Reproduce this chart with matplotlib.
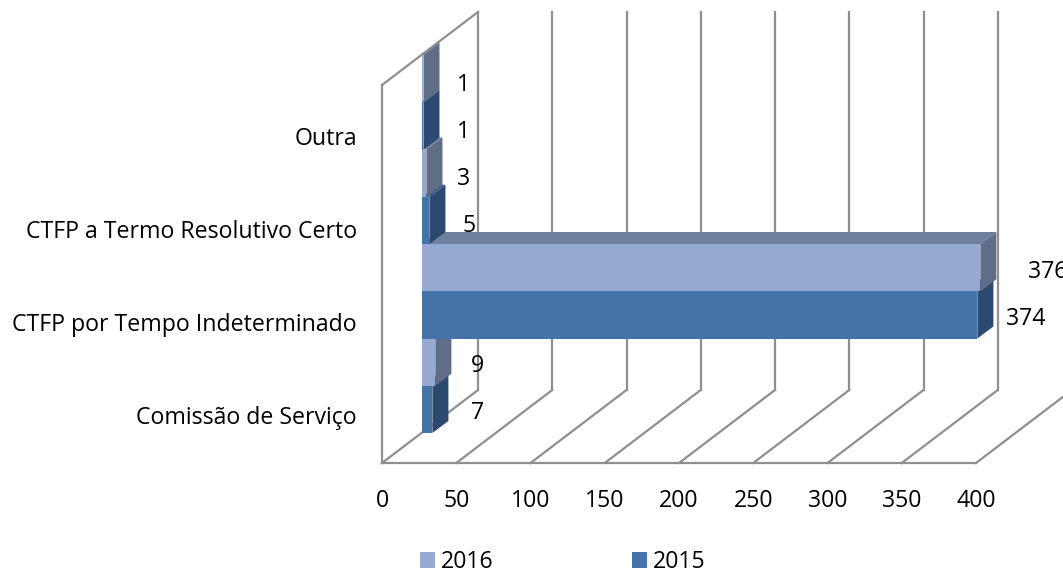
import matplotlib
matplotlib.use("Agg")
import matplotlib.pyplot as plt
from matplotlib.patches import Polygon, Patch

categories = ["Comissão de Serviço", "CTFP por Tempo Indeterminado",
              "CTFP a Termo Resolutivo Certo", "Outra"]
values_2015 = [7, 374, 5, 1]
values_2016 = [9, 376, 3, 1]
value_ticks = [0, 50, 100, 150, 200, 250, 300, 350, 400]

# layout (pixels)
W, H = 1063, 569
LEFT, RIGHT, BOTTOM, TOP = 382, 976, 463, 85
label_gap_2015 = [45, 48, 40, 40]
label_gap_2016 = [42, 67, 37, 40]
cat_first, cat_step = 48, 93
label_first, label_step = 50, 46.86

plt.rcParams["font.family"] = ["Open Sans", "DejaVu Sans"]
FS = 16.7
GRID = "#8f8f8f"
C2015 = ("#4572A7", "#2C4A70", "#3B5F8C")
C2016 = ("#95A9D1", "#5F6D87", "#6F7F9E")

fig = plt.figure(figsize=(W / 100, H / 100), dpi=100)
ax = fig.add_axes([LEFT / W, 1 - BOTTOM / H, (RIGHT - LEFT) / W, (BOTTOM - TOP) / H])
ax.set_xlim(0, 400)
ax.set_ylim(0, 4)
for s in ax.spines.values():
    s.set_visible(False)
ax.patch.set_visible(False)

sx = 400 / (RIGHT - LEFT)   # value units per pixel
sy = 4 / (BOTTOM - TOP)     # category units per pixel
wall_dx, wall_dy = 96 * sx, 73 * sy
front_dx, front_dy = 40 * sx, 30 * sy
bar_dx, bar_dy = 16 * sx, 12 * sy
bar_h = 0.5

ax.set_xticks(value_ticks)
ax.set_yticks([(cat_first + i * cat_step) * sy for i in range(len(categories))])
ax.set_yticklabels(categories)
ax.tick_params(axis="both", length=0, labelsize=FS, labelcolor="black")
ax.tick_params(axis="y", pad=18)
ax.tick_params(axis="x", pad=19)

lk = dict(color=GRID, lw=1.6, clip_on=False, solid_capstyle="projecting", zorder=1)
ax.plot([0, 400], [0, 0], **lk)
ax.plot([0, 0], [0, 4], **lk)
ax.plot([0, wall_dx], [4, 4 + wall_dy], **lk)
for t in value_ticks:
    ax.plot([t, t + wall_dx], [0, wall_dy], **lk)
    ax.plot([t + wall_dx, t + wall_dx], [wall_dy, 4 + wall_dy], **lk)

def bar(v, y, cols, z):
    x0, x1 = front_dx, front_dx + v
    y0, y1 = y + front_dy, y + front_dy + bar_h
    front, side, top = cols
    common = dict(clip_on=False, zorder=z, lw=0)
    ax.add_patch(Polygon([(x0, y1), (x1, y1), (x1 + bar_dx, y1 + bar_dy), (x0 + bar_dx, y1 + bar_dy)],
                         fc=top, **common))
    ax.add_patch(Polygon([(x1, y0), (x1 + bar_dx, y0 + bar_dy), (x1 + bar_dx, y1 + bar_dy), (x1, y1)],
                         fc=side, **common))
    ax.add_patch(Polygon([(x0, y0), (x1, y0), (x1, y1), (x0, y1)], fc=front, **common))

z = 2
k = 0
for i in range(len(categories)):
    for vals, cols, gaps, off in ((values_2015, C2015, label_gap_2015, 0),
                                  (values_2016, C2016, label_gap_2016, bar_h)):
        y = i + off
        bar(vals[i], y, cols, z)
        z += 1
        ax.text(front_dx + vals[i] + gaps[i] * sx, (label_first + k * label_step) * sy, str(vals[i]),
                ha="center", va="center", fontsize=FS, color="black", zorder=50, clip_on=False)
        k += 1

handles = [Patch(fc=C2016[0], lw=0, label="2016"), Patch(fc=C2015[0], lw=0, label="2015")]
px = FS * 100 / 72
leg = fig.legend(handles=handles, ncol=2, frameon=False, fontsize=FS,
                 loc="center left", bbox_to_anchor=(420 / W, 1 - 562 / H),
                 borderpad=0, borderaxespad=0, handlelength=15 / px, handleheight=15 / px,
                 handletextpad=6 / px, columnspacing=(632 - 441 - 53) / px)

fig.savefig("out.png", dpi=100, facecolor="white")
